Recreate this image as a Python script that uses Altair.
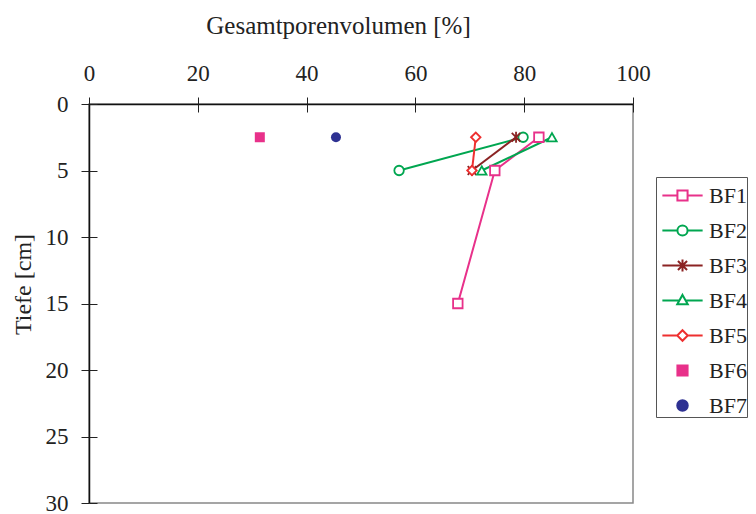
import altair as alt
import pandas as pd

# ---- data ----
series_names = ["BF1", "BF2", "BF3", "BF4", "BF5", "BF6", "BF7"]
bf1_gpv = [82.7, 74.6, 67.8]
bf1_depth = [2.5, 5, 15]
bf2_gpv = [79.8, 57.0]
bf2_depth = [2.5, 5]
bf3_gpv = [78.5, 70.4]
bf3_depth = [2.5, 5]
bf4_gpv = [85.1, 72.2]
bf4_depth = [2.5, 5]
bf5_gpv = [71.1, 70.4]
bf5_depth = [2.5, 5]
bf6_gpv = [31.4]
bf6_depth = [2.5]
bf7_gpv = [45.4]
bf7_depth = [2.5]

x_ticks = [0, 20, 40, 60, 80, 100]
y_ticks = [0, 5, 10, 15, 20, 25, 30]

series_colors = ["#e8318a", "#00a650", "#8b2323", "#00a650", "#ee2f2f", "#e8318a", "#2e3192"]

ASTER = "M-0.9,-0.9L0.9,0.9M-0.9,0.9L0.9,-0.9M0,-1.15L0,1.15"
plot_shapes = ["square", "circle", ASTER, "triangle-up", "diamond", "square", "circle"]

legend_shapes = [
    "M-1.15,0H-0.29M0.29,0H1.15M-0.29,-0.29H0.29V0.29H-0.29Z",
    "M-1.15,0H-0.29M0.29,0H1.15M-0.29,0A0.29,0.29 0 1,1 0.29,0A0.29,0.29 0 1,1 -0.29,0Z",
    "M-1.15,0H1.15M-0.26,-0.26L0.26,0.26M-0.26,0.26L0.26,-0.26M0,-0.34V0.34",
    "M-1.15,0H-0.18M0.18,0H1.15M0,-0.32L0.3,0.22L-0.3,0.22Z",
    "M-1.15,0H-0.3M0.3,0H1.15M0,-0.3L0.3,0L0,0.3L-0.3,0Z",
    "M-0.29,-0.29H0.29V0.29H-0.29Z",
    "M-0.3,0A0.3,0.3 0 1,1 0.3,0A0.3,0.3 0 1,1 -0.3,0Z",
]
legend_fills = ["white", "white", "white", "white", "white", "#e8318a", "#2e3192"]

FONT = "Liberation Serif"

# ---- table ----
all_gpv = [bf1_gpv, bf2_gpv, bf3_gpv, bf4_gpv, bf5_gpv, bf6_gpv, bf7_gpv]
all_depth = [bf1_depth, bf2_depth, bf3_depth, bf4_depth, bf5_depth, bf6_depth, bf7_depth]
rows = []
for name, gs, ds in zip(series_names, all_gpv, all_depth):
    for g, d in zip(gs, ds):
        rows.append({"series": name, "gpv": g, "depth": d})
df = pd.DataFrame(rows)

x_scale = alt.Scale(domain=[0, 100], nice=False, zero=False)
y_scale = alt.Scale(domain=[0, 30], reverse=True, nice=False, zero=False)
color_scale = alt.Scale(domain=series_names, range=series_colors)
shape_scale = alt.Scale(domain=series_names, range=plot_shapes)

main_x_axis = alt.Axis(
    orient="top", values=x_ticks, tickSize=7, labelPadding=17,
    labelBaseline="alphabetic", labelFontSize=23, labelFlush=False, labelOverlap=False,
    title="Gesamtporenvolumen [%]", titleFontSize=25, titleFontWeight="normal",
    titleX=249, titleY=-71, titleBaseline="alphabetic", titleAlign="center",
    grid=False, domainWidth=1.5,
)
main_y_axis = alt.Axis(
    orient="left", values=y_ticks, tickSize=8, labelPadding=13,
    labelFontSize=23, labelFlush=False, labelOverlap=False,
    title="Tiefe [cm]", titleFontSize=24, titleFontWeight="normal", titleAngle=270,
    titleX=-59, titleY=180, titleBaseline="alphabetic", titleAlign="center",
    grid=False, domainWidth=1.5,
)
inner_x_axis = alt.Axis(orient="top", offset=-8, values=x_ticks, tickSize=8,
                        labels=False, domain=False, grid=False, title=None)
inner_y_axis = alt.Axis(orient="left", offset=-8, values=y_ticks, tickSize=8,
                        labels=False, domain=False, grid=False, title=None)

base = alt.Chart(df)

lines = base.transform_filter(
    alt.FieldOneOfPredicate(field="series", oneOf=series_names[:5])
).mark_line(strokeWidth=2).encode(
    x=alt.X("gpv:Q", scale=x_scale, axis=main_x_axis),
    y=alt.Y("depth:Q", scale=y_scale, axis=main_y_axis),
    color=alt.Color("series:N", scale=color_scale, legend=None),
    order=alt.Order("depth:Q"),
)

hollow = base.transform_filter(
    alt.FieldOneOfPredicate(field="series", oneOf=series_names[:5])
).mark_point(filled=False, fill="white", size=90, strokeWidth=1.8, opacity=1).encode(
    x=alt.X("gpv:Q", scale=x_scale, axis=inner_x_axis),
    y=alt.Y("depth:Q", scale=y_scale, axis=inner_y_axis),
    color=alt.Color("series:N", scale=color_scale, legend=None),
    shape=alt.Shape("series:N", scale=shape_scale, legend=None),
)

solid = base.transform_filter(
    alt.FieldOneOfPredicate(field="series", oneOf=series_names[5:])
).mark_point(filled=True, size=100, opacity=1).encode(
    x=alt.X("gpv:Q", scale=x_scale, axis=None),
    y=alt.Y("depth:Q", scale=y_scale, axis=None),
    color=alt.Color("series:N", scale=color_scale, legend=None),
    shape=alt.Shape("series:N", scale=shape_scale, legend=None),
)

leg = alt.Legend(
    orient="none", legendX=567, legendY=73, title=None, padding=0,
    strokeColor="#555", fillColor="white",
    symbolSize=1225, symbolStrokeWidth=2, symbolOffset=8,
    labelFont=FONT, labelFontSize=22, labelColor="#222", labelOffset=8,
    rowPadding=5, labelExpr="datum.label + '          '",
)

legend_layer = base.transform_filter("false").mark_point(
    filled=True, size=1225, strokeWidth=2, opacity=1
).encode(
    stroke=alt.Stroke("series:N", scale=alt.Scale(domain=series_names, range=series_colors), legend=leg),
    fill=alt.Fill("series:N", scale=alt.Scale(domain=series_names, range=legend_fills), legend=leg),
    shape=alt.Shape("series:N", scale=alt.Scale(domain=series_names, range=legend_shapes), legend=leg),
)

chart = alt.layer(lines, hollow, solid, legend_layer).resolve_axis(
    x="independent", y="independent"
).resolve_scale(
    shape="independent", stroke="independent", fill="independent"
).properties(
    width=544, height=399,
    autosize=alt.AutoSizeParams(type="none"),
    padding={"left": 81, "top": 96, "right": 115, "bottom": 11},
).configure_view(
    stroke="#888", strokeWidth=1.5
).configure_axis(
    labelFont=FONT, titleFont=FONT, labelColor="#222", titleColor="#222",
    tickColor="#222", domainColor="#111",
)

chart.save("out.html", embed_options={"renderer": "svg", "actions": False})
